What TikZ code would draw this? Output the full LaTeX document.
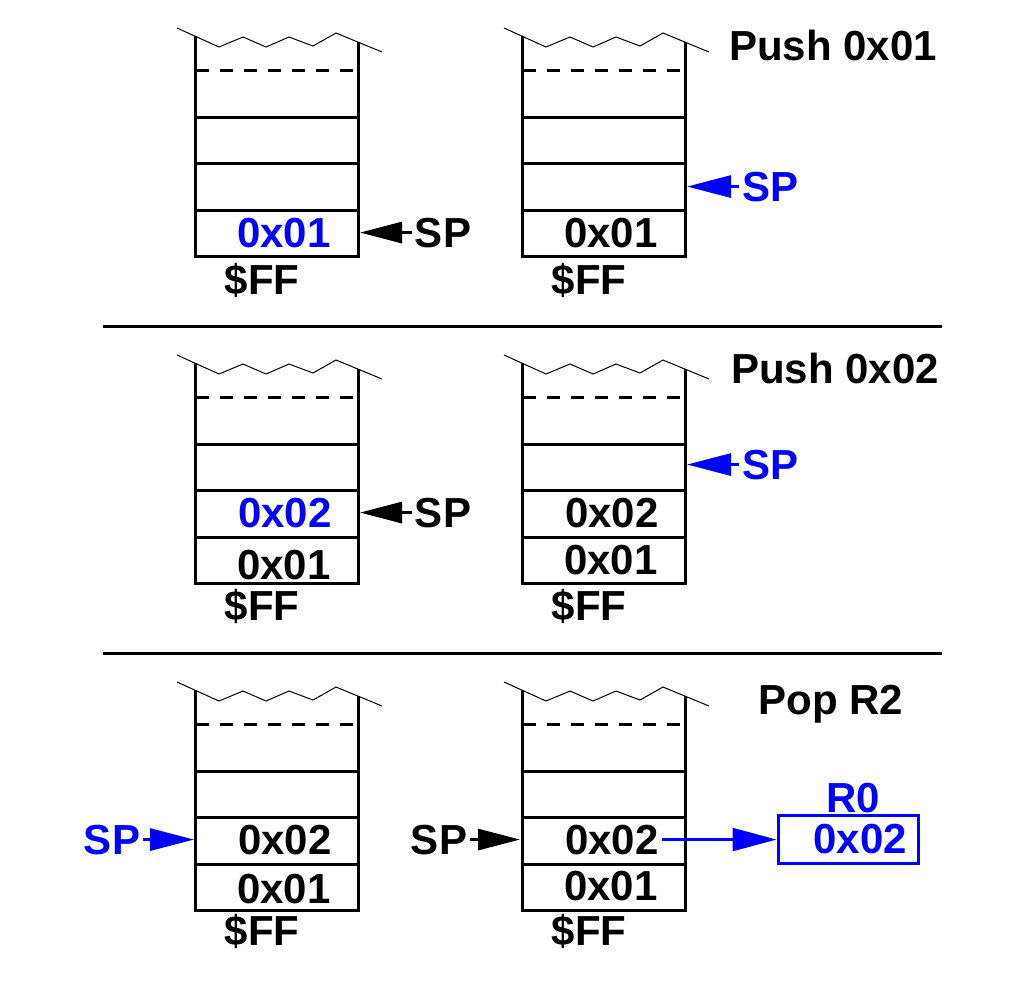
\documentclass[tikz,border=0pt]{standalone}
\usepackage{fontspec}
\setmainfont{Liberation Sans}
\usetikzlibrary{arrows.meta}
\definecolor{pblue}{RGB}{0,0,255}
\tikzset{
  stackline/.style={line width=1.5pt, line join=miter},
  zig/.style={line width=0.5pt},
  dashrow/.style={line width=1.5pt, dash pattern=on 6.5pt off 5.5pt},
  txt/.style={font=\fontsize{21}{24}\bfseries\selectfont, anchor=base, inner sep=1.5pt},
  bluetxt/.style={txt, text=pblue},
  sparrow/.style={line width=1.5pt, -{Triangle[length=21pt,width=10.5pt]}},
  bluearrow/.style={sparrow, draw=pblue, fill=pblue, line width=1.5pt, -{Triangle[length=22pt,width=11pt]}},
  regline/.style={draw=pblue, line width=1.2pt, -{Triangle[length=22pt,width=11.5pt]}},
  sepline/.style={line width=1.5pt},
}
\newcommand{\mystack}[2]{%
  \begin{scope}[shift={(#1,#2)}]
    \draw[zig] (177,28) -- (219,47) -- (243,37) -- (266,47) -- (289,37) -- (313,46) -- (336,33) -- (382,52);
    \draw[stackline] (195,36) -- (195,256) -- (358,256) -- (358,42);
    \draw[stackline] (195,117) -- (358,117);
    \draw[stackline] (195,163) -- (358,163);
    \draw[stackline] (195,210) -- (358,210);
    \draw[dashrow] (196,70) -- (358,70);
  \end{scope}}
\begin{document}
\begin{tikzpicture}[x=0.5pt, y=-0.5pt]
  \useasboundingbox (0,0) rectangle (1026,982);
  % stacks
  \mystack{0}{0}
  \mystack{327}{0}
  \mystack{0}{327}
  \mystack{327}{327}
  \mystack{0}{654}
  \mystack{327}{654}
  % separators
  \coordinate (s1a) at (103,326); \coordinate (s1b) at (942,326);
  \coordinate (s2a) at (103,653); \coordinate (s2b) at (942,653);
  \draw[sepline] (s1a) -- (s1b);
  \draw[sepline] (s2a) -- (s2b);

  % ---- row 1
  \node[txt] (h1) at (833,60) {Push 0x01};
  \node[bluetxt] (a1) at (284,247) {0x01};
  \node[txt] (f1) at (262,294) {\$FF};
  \node[txt] (sp1) at (443,247) {SP};
  \coordinate (tip1) at (360,233);
  \draw[sparrow] (sp1.west) -- (sp1.west -| tip1);
  \node[txt] (b1) at (611,247) {0x01};
  \node[txt] (g1) at (589,294) {\$FF};
  \node[bluetxt] (sp2) at (770,201) {SP};
  \coordinate (tip2) at (687,187);
  \draw[bluearrow] (sp2.west) -- (sp2.west -| tip2);

  % ---- row 2
  \node[txt] (h2) at (835,383) {Push 0x02};
  \node[bluetxt] (a2) at (285,527) {0x02};
  \node[txt] (a3) at (284,579) {0x01};
  \node[txt] (f2) at (262,620) {\$FF};
  \node[txt] (sp3) at (443,527) {SP};
  \coordinate (tip3) at (360,513);
  \draw[sparrow] (sp3.west) -- (sp3.west -| tip3);
  \node[txt] (b2) at (612,527) {0x02};
  \node[txt] (b3) at (611,574) {0x01};
  \node[txt] (g2) at (589,620) {\$FF};
  \node[bluetxt] (sp4) at (770,479) {SP};
  \coordinate (tip4) at (687,465);
  \draw[bluearrow] (sp4.west) -- (sp4.west -| tip4);

  % ---- row 3
  \node[txt] (h3) at (831,714) {Pop R2};
  \node[bluetxt] (sp5) at (112,854) {SP};
  \coordinate (tip5) at (194,840);
  \draw[bluearrow] (sp5.east) -- (sp5.east -| tip5);
  \node[txt] (a4) at (285,854) {0x02};
  \node[txt] (a5) at (284,903) {0x01};
  \node[txt] (f3) at (262,945) {\$FF};
  \node[txt] (sp6) at (439,854) {SP};
  \coordinate (tip6) at (520,840);
  \draw[sparrow] (sp6.east) -- (sp6.east -| tip6);
  \node[txt] (b4) at (612,854) {0x02};
  \node[txt] (b5) at (611,900) {0x01};
  \node[txt] (g3) at (589,945) {\$FF};
  \node[bluetxt] (r0) at (853,812) {R0};
  \node[draw=pblue, line width=1.5pt, minimum width=70pt, minimum height=24pt,
        inner sep=0pt, text=pblue, font=\fontsize{21}{24}\bfseries\selectfont]
        (r0box) at (848,839) {\hspace*{12pt}0x02};
  \draw[regline] (b4.east) -- (b4.east -| r0box.west);
\end{tikzpicture}
\end{document}
